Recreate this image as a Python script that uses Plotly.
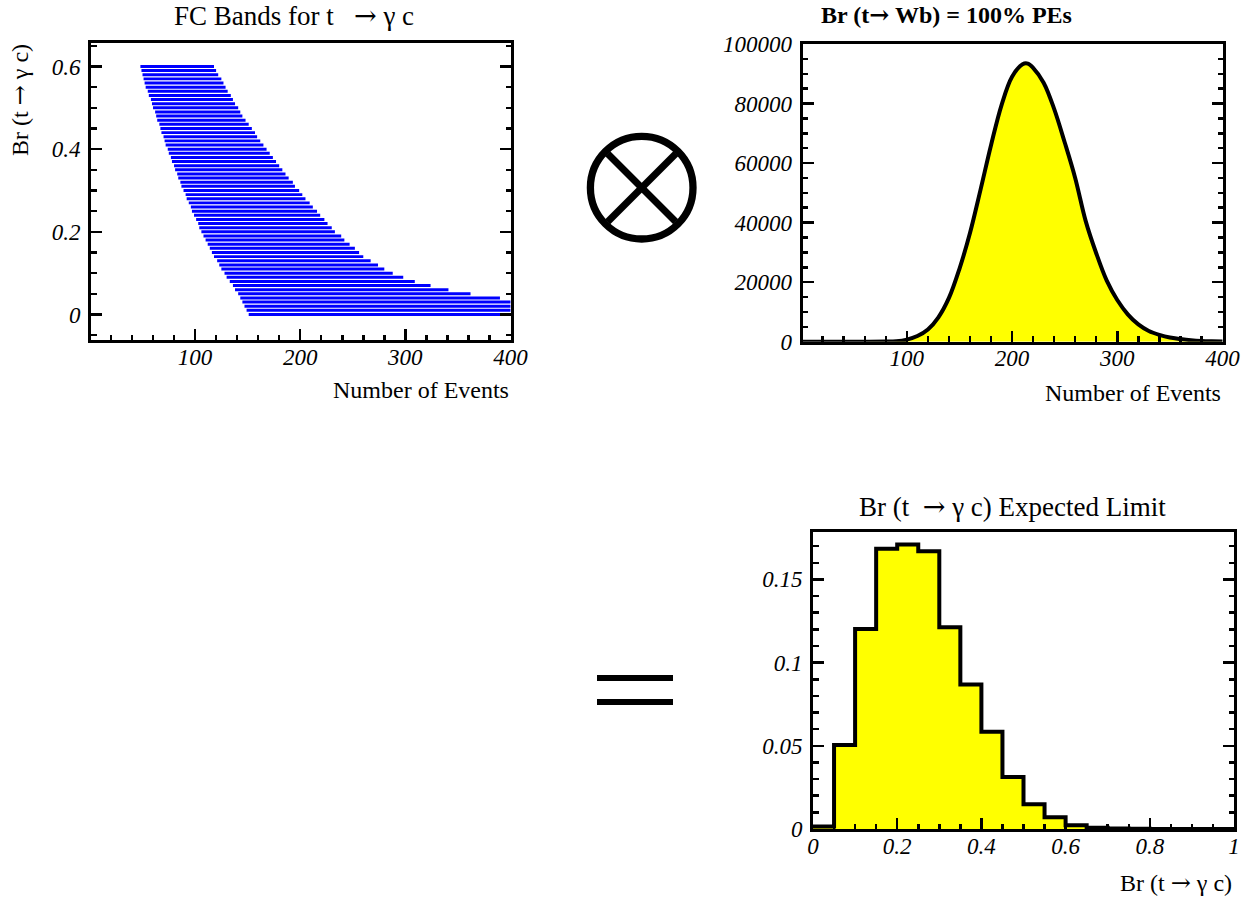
import plotly.graph_objects as go

W, H = 1255, 901

# ---------------- data ----------------
# FC bands: Br(t->gamma c) grid and acceptance interval [low, high] in number of events
fc_br = [0.60, 0.59, 0.58, 0.57, 0.56, 0.55, 0.54, 0.53, 0.52, 0.51,
         0.50, 0.49, 0.48, 0.47, 0.46, 0.45, 0.44, 0.43, 0.42, 0.41,
         0.40, 0.39, 0.38, 0.37, 0.36, 0.35, 0.34, 0.33, 0.32, 0.31,
         0.30, 0.29, 0.28, 0.27, 0.26, 0.25, 0.24, 0.23, 0.22, 0.21,
         0.20, 0.19, 0.18, 0.17, 0.16, 0.15, 0.14, 0.13, 0.12, 0.11,
         0.10, 0.09, 0.08, 0.07, 0.06, 0.05, 0.04, 0.03, 0.02, 0.01, 0.00]
fc_low = [48, 49, 50, 51, 52, 53, 55, 56, 58, 59,
          60, 62, 63, 64, 66, 67, 68, 70, 71, 72,
          74, 75, 77, 78, 80, 81, 83, 84, 86, 87,
          89, 91, 92, 94, 96, 97, 99, 101, 103, 104,
          106, 108, 110, 112, 114, 116, 118, 121, 123, 125,
          128, 130, 133, 136, 138, 141, 143, 145, 147, 149, 151]
fc_high = [118, 120, 122, 125, 127, 129, 131, 134, 136, 138,
           141, 143, 145, 148, 151, 154, 157, 159, 162, 165,
           168, 171, 174, 177, 180, 183, 186, 189, 193, 195,
           199, 202, 205, 209, 212, 216, 219, 223, 226, 230,
           233, 239, 242, 247, 252, 256, 260, 267, 274, 280,
           288, 298, 309, 324, 341, 362, 390, 400, 400, 400, 400]

# Pseudo-experiments distribution, Br(t->Wb) = 100%
pe_x = [1, 20, 40, 60, 80, 90, 100, 110, 120, 130, 140, 150, 160, 170, 180, 190,
        200, 210, 215, 220, 230, 240, 250, 260, 270, 280, 290, 300, 310, 320,
        330, 340, 350, 360, 370, 380, 390, 400]
pe_y = [0, 0, 0, 0, 30, 150, 700, 1900, 4100, 8200, 14700, 24500, 36500, 51000, 66000, 79500,
        89000, 93200, 93400, 92000, 87000, 78200, 67000, 55000, 40500, 29700, 20500, 14000, 9200, 5800,
        3600, 2300, 1400, 900, 500, 250, 120, 50]

# Expected limit histogram (bin lower edges, width 0.05)
lim_edges = [0.00, 0.05, 0.10, 0.15, 0.20, 0.25, 0.30, 0.35, 0.40, 0.45,
             0.50, 0.55, 0.60, 0.65, 0.70, 0.75, 0.80, 0.85, 0.90, 0.95]
lim_vals = [0.0015, 0.0505, 0.1202, 0.1684, 0.1710, 0.1670, 0.1213, 0.0868, 0.0585, 0.0312,
            0.0148, 0.0071, 0.0022, 0.0008, 0.0003, 0.0001, 0.0, 0.0, 0.0, 0.0]
lim_hi_edge = 1.0

# ---------------- helpers ----------------
def px(x):
    return x / W

def py(y):
    return 1 - y / H

SERIF = "Liberation Serif"

def axis(**kw):
    d = dict(showline=True, linecolor="black", linewidth=3, automargin=False,
             ticks="inside", ticklen=11, tickwidth=2.5, tickcolor="black",
             showgrid=False, zeroline=False,
             tickfont=dict(family=SERIF, size=23, style="italic", color="black"),
             minor=dict(ticks="inside", ticklen=5.5, tickwidth=2.5, tickcolor="black", showgrid=False))
    minor = kw.pop("minor", {})
    d["minor"].update(minor)
    d.update(kw)
    return d

fig = go.Figure()

# Panel 1: FC bands
fig.add_trace(go.Bar(
    orientation="h", y=fc_br, base=fc_low,
    x=[h - l for l, h in zip(fc_low, fc_high)],
    width=0.0072, marker=dict(color="#0000ff", line=dict(width=0)),
    xaxis="x", yaxis="y", showlegend=False, hoverinfo="skip"))

# Panel 2: PEs
fig.add_trace(go.Scatter(
    x=pe_x, y=pe_y, mode="lines",
    line=dict(color="black", width=4, shape="spline", smoothing=1.0),
    fill="tozeroy", fillcolor="#ffff00",
    xaxis="x2", yaxis="y2", showlegend=False, hoverinfo="skip"))

# Panel 3: expected limit histogram
fig.add_trace(go.Scatter(
    x=lim_edges + [lim_hi_edge], y=lim_vals + [lim_vals[-1]], mode="lines",
    line=dict(color="black", width=4, shape="hv"),
    fill="tozeroy", fillcolor="#ffff00",
    xaxis="x3", yaxis="y3", showlegend=False, hoverinfo="skip"))

XSO, YSO = -6, 3
fig.update_layout(
    width=W, height=H,
    margin=dict(l=0, r=0, t=0, b=0, pad=0, autoexpand=False),
    paper_bgcolor="white", plot_bgcolor="white",
    showlegend=False, hovermode=False,
    xaxis=axis(domain=[px(91), px(511)], range=[1, 400.5], dtick=100, tick0=0,
               mirror=True, anchor="y", ticklabelstandoff=XSO, minor=dict(dtick=20, tick0=0)),
    yaxis=axis(domain=[py(340), py(42.5)], range=[-0.0617, 0.658], dtick=0.2, tick0=0,
               mirror="ticks", anchor="x", ticklabelstandoff=YSO, minor=dict(dtick=0.05, tick0=0)),
    xaxis2=axis(domain=[px(802.7), px(1223)], range=[1, 400.5], dtick=100, tick0=0,
                mirror=True, anchor="y2", ticklabelstandoff=XSO, minor=dict(dtick=20, tick0=0)),
    yaxis2=axis(domain=[py(341.7), py(44)], range=[0, 100000], dtick=20000, tick0=0,
                tickformat="d", mirror="ticks", anchor="x2", ticklabelstandoff=YSO,
                minor=dict(dtick=5000, tick0=0)),
    xaxis3=axis(domain=[px(813), px(1234)], range=[0, 1], dtick=0.2, tick0=0,
                mirror=True, anchor="y3", ticklabelstandoff=XSO, minor=dict(dtick=0.05, tick0=0)),
    yaxis3=axis(domain=[py(829), py(532)], range=[0, 0.1785], dtick=0.05, tick0=0,
                mirror="ticks", anchor="x3", ticklabelstandoff=YSO, minor=dict(dtick=0.01, tick0=0)),
)

def txt(text, x, y, size, xanchor="center", yanchor="middle", bold=False, angle=0):
    fig.add_annotation(text=("<b>%s</b>" % text) if bold else text,
                       x=px(x), y=py(y), xref="paper", yref="paper",
                       xanchor=xanchor, yanchor=yanchor, showarrow=False,
                       textangle=angle,
                       font=dict(family=SERIF, size=size, color="black"))

NB = "\u00a0"
ARR = '<span style="font-family:DejaVu Serif">\u2192</span>'
txt("FC Bands for t" + NB + NB + " " + ARR + NB + "\u03b3 c", 294, 16, 27)
txt("Br (t" + ARR + " Wb) = 100% PEs", 946, 15, 24, bold=True)
txt("Br (t" + NB + " " + ARR + " \u03b3 c) Expected Limit", 1012, 507, 27)
txt("Number of Events", 511, 390, 24, xanchor="right")
txt("Number of Events", 1223, 393, 24, xanchor="right")
txt("Br (t " + ARR + " \u03b3 c)", 1234, 883, 24, xanchor="right")
txt("Br (t " + ARR + " \u03b3 c)", 20, 100, 24, angle=-90)

# Operator symbols: circled times and equals sign
cx, cy, r = 641.7, 187.7, 51.3
fig.add_shape(type="circle", xref="paper", yref="paper",
              x0=px(cx - r), x1=px(cx + r), y0=py(cy + r), y1=py(cy - r),
              line=dict(color="black", width=7.3))
d = 34
fig.add_shape(type="line", xref="paper", yref="paper",
              x0=px(cx - d), y0=py(cy - d), x1=px(cx + d), y1=py(cy + d),
              line=dict(color="black", width=7))
fig.add_shape(type="line", xref="paper", yref="paper",
              x0=px(cx - d), y0=py(cy + d), x1=px(cx + d), y1=py(cy - d),
              line=dict(color="black", width=7))
for y0, y1 in [(675, 681), (699, 705)]:
    fig.add_shape(type="rect", xref="paper", yref="paper",
                  x0=px(597), x1=px(673), y0=py(y1), y1=py(y0),
                  fillcolor="black", line=dict(width=0))

fig.write_html("out.html", config={"displayModeBar": False, "staticPlot": True},
               post_script="document.body.style.margin='0px';")
